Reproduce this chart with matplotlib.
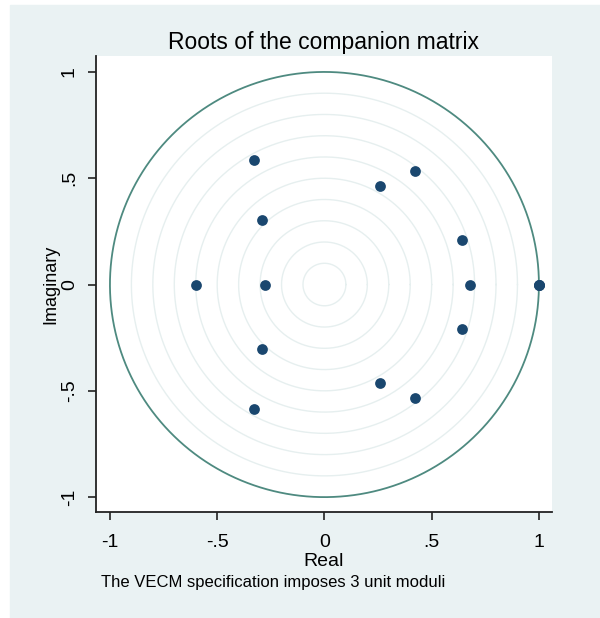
import matplotlib.pyplot as plt
import numpy as np

plt.rcParams['font.family'] = ['Liberation Sans', 'DejaVu Sans']

# eigenvalues of the companion matrix
real = [1.0, 1.0, 1.0, 0.68, 0.64, 0.64, 0.42, 0.42, 0.26, 0.26,
        -0.29, -0.29, -0.275, -0.33, -0.33, -0.60]
imag = [0.0, 0.0, 0.0, 0.0, 0.21, -0.21, 0.535, -0.535, 0.465, -0.465,
        0.305, -0.305, 0.0, 0.585, -0.585, 0.0]
grid_radii = [0.1, 0.2, 0.3, 0.4, 0.5, 0.6, 0.7, 0.8, 0.9]
ticks = [-1, -0.5, 0, 0.5, 1]
tick_labels = ['-1', '-.5', '0', '.5', '1']

bg = '#EAF2F3'
fig = plt.figure(figsize=(6.0, 6.18), dpi=100)
fig.patches.append(plt.Rectangle((10 / 600, 0), 590 / 600, 613 / 618,
                                 transform=fig.transFigure, color=bg, zorder=-10))

ax = fig.add_axes([96 / 600, 1 - 512 / 618, 456 / 600, 456 / 618])
ax.set_facecolor('white')

t = np.linspace(0, 2 * np.pi, 400)
for r in grid_radii:
    ax.plot(r * np.cos(t), r * np.sin(t), color='#E6EFEF', lw=1.0, zorder=1)
ax.plot(np.cos(t), np.sin(t), color='#4E8A80', lw=1.3, zorder=2)

ax.scatter(real, imag, s=60, color='#1A476F', zorder=3, linewidths=0)

ax.set_xlim(-1.065, 1.061)
ax.set_ylim(-1.07, 1.075)
ax.set_xticks(ticks)
ax.set_xticklabels(tick_labels, fontsize=14)
ax.set_yticks(ticks)
ax.set_yticklabels(tick_labels, fontsize=14, rotation=90, va='center')
ax.tick_params(direction='out', length=6, width=1.2, color='#222222')
ax.tick_params(axis='x', pad=10)
ax.tick_params(axis='y', pad=7)

for side in ['top', 'right']:
    ax.spines[side].set_visible(False)
for side in ['left', 'bottom']:
    ax.spines[side].set_linewidth(1.3)
    ax.spines[side].set_color('#222222')

ax.set_xlabel('Real', fontsize=14, labelpad=1)
ax.set_ylabel('Imaginary', fontsize=13, labelpad=1)
ax.set_title('Roots of the companion matrix', fontsize=16.5, pad=5)

fig.text(101 / 600, 1 - 583 / 618, 'The VECM specification imposes 3 unit moduli',
         fontsize=12, va='center')

fig.savefig('out.png', dpi=100, facecolor='white')
